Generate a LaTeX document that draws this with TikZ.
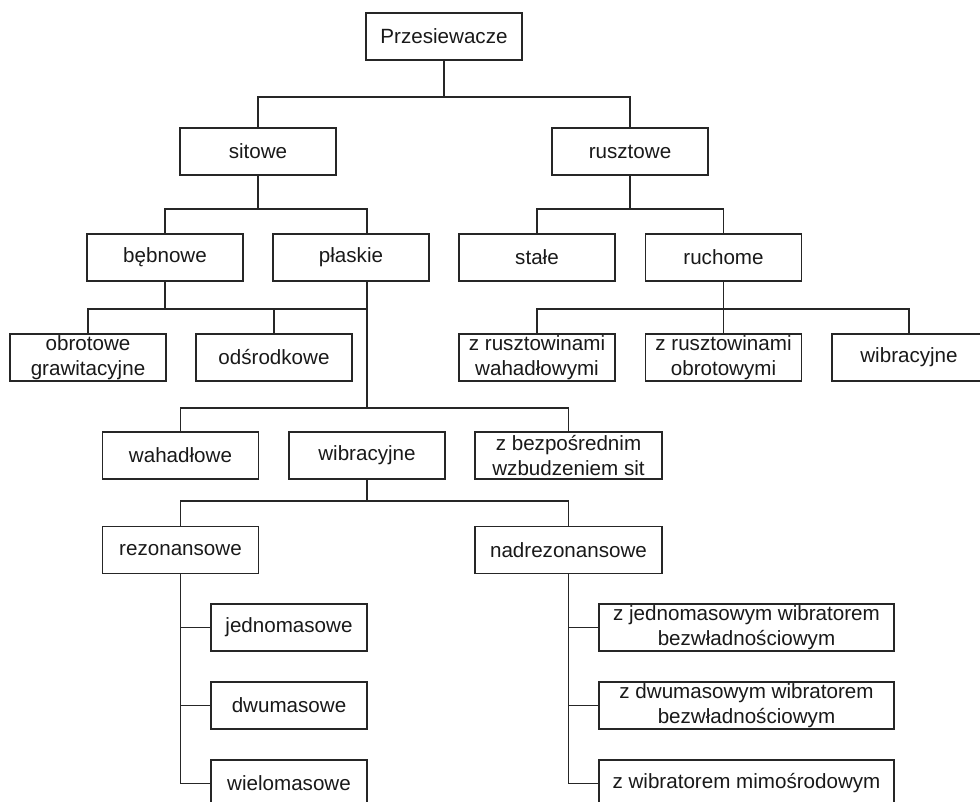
\documentclass[tikz,border=0pt]{standalone}
\usepackage{fontspec}
\setmainfont{Liberation Sans}
\begin{document}
\begin{tikzpicture}[x=1pt,y=-1pt,
  box/.style={draw=black!85, line width=1.5pt, rectangle, inner sep=0pt, align=center,
    minimum width=156pt, minimum height=47pt, text=black!90,
    font=\fontsize{20.6}{25}\selectfont},
  wbox/.style={box, minimum width=187pt},
  xbox/.style={box, minimum width=295pt},
  conn/.style={draw=black!85, line width=1.5pt}]
\useasboundingbox (0,0) rectangle (980,802);
\clip (0,0) rectangle (980,802);
\fill[white] (0,0) rectangle (980,802);
% bus levels
\coordinate (b1) at (0,97);
\coordinate (b2) at (0,209);
\coordinate (b3) at (0,309);
\coordinate (b4) at (0,408);
\coordinate (b5) at (0,501);
% nodes
\node[box] (root) at (444,36.5) {Przesiewacze};
\node[box] (sitowe) at (258,151.5) {sitowe};
\node[box] (rusztowe) at (630,151.5) {rusztowe};
\node[box] (bebnowe) at (165,257.5) {bębnowe};
\node[box] (plaskie) at (351,257.5) {płaskie};
\node[box] (stale) at (537,257.5) {stałe};
\node[box] (ruchome) at (723.5,257.5) {ruchome};
\node[box] (obrot) at (88,357.5) {obrotowe\\grawitacyjne};
\node[box] (odsr) at (274,357.5) {odśrodkowe};
\node[box] (zrw) at (537,357.5) {z rusztowinami\\wahadłowymi};
\node[box] (zro) at (723.5,357.5) {z rusztowinami\\obrotowymi};
\node[box, minimum width=154pt] (wibr2) at (909,357.5) {wibracyjne};
\node[box] (wahad) at (180.5,455.5) {wahadłowe};
\node[box] (wibr) at (367,455.5) {wibracyjne};
\node[wbox] (zbezp) at (568.5,455.5) {z bezpośrednim\\wzbudzeniem sit};
\node[box] (rezon) at (180.5,550) {rezonansowe};
\node[wbox] (nadrez) at (568.5,550) {nadrezonansowe};
\node[box] (jedn) at (289,627.5) {jednomasowe};
\node[box] (dwum) at (289,705.5) {dwumasowe};
\node[box] (wielom) at (289,783.5) {wielomasowe};
\node[xbox] (zjedn) at (746.5,627.5) {z jednomasowym wibratorem\\bezwładnościowym};
\node[xbox] (zdwum) at (746.5,705.5) {z dwumasowym wibratorem\\bezwładnościowym};
\node[xbox] (zwibr) at (746.5,783.5) {z wibratorem mimośrodowym};
% connectors
\draw[conn] (root.south) -- (root.south |- b1);
\draw[conn] (sitowe.north) -- (sitowe.north |- b1) -| (rusztowe.north);
\draw[conn] (sitowe.south) -- (sitowe.south |- b2);
\draw[conn] (bebnowe.north) -- (bebnowe.north |- b2) -| ([xshift=16pt]plaskie.north);
\draw[conn] (rusztowe.south) -- (rusztowe.south |- b2);
\draw[conn] (stale.north) -- (stale.north |- b2) -| (ruchome.north);
\draw[conn] (bebnowe.south) -- (bebnowe.south |- b3);
\draw[conn] (obrot.north) -- (obrot.north |- b3) -- ([xshift=16pt]plaskie.south |- b3);
\draw[conn] (odsr.north) -- (odsr.north |- b3);
\draw[conn] ([xshift=16pt]plaskie.south) -- ([xshift=16pt]plaskie.south |- b4);
\draw[conn] (wahad.north) -- (wahad.north |- b4) -| (zbezp.north);
\draw[conn] (ruchome.south) -- (ruchome.south |- b3);
\draw[conn] (zrw.north) -- (zrw.north |- b3) -| (wibr2.north);
\draw[conn] (zro.north) -- (zro.north |- b3);
\draw[conn] (wibr.south) -- (wibr.south |- b5);
\draw[conn] (rezon.north) -- (rezon.north |- b5) -| (nadrez.north);
\draw[conn] (rezon.south) -- (rezon.south |- wielom.west) -- (wielom.west);
\draw[conn] (rezon.south |- jedn.west) -- (jedn.west);
\draw[conn] (rezon.south |- dwum.west) -- (dwum.west);
\draw[conn] (nadrez.south) -- (nadrez.south |- zwibr.west) -- (zwibr.west);
\draw[conn] (nadrez.south |- zjedn.west) -- (zjedn.west);
\draw[conn] (nadrez.south |- zdwum.west) -- (zdwum.west);
\end{tikzpicture}
\end{document}
